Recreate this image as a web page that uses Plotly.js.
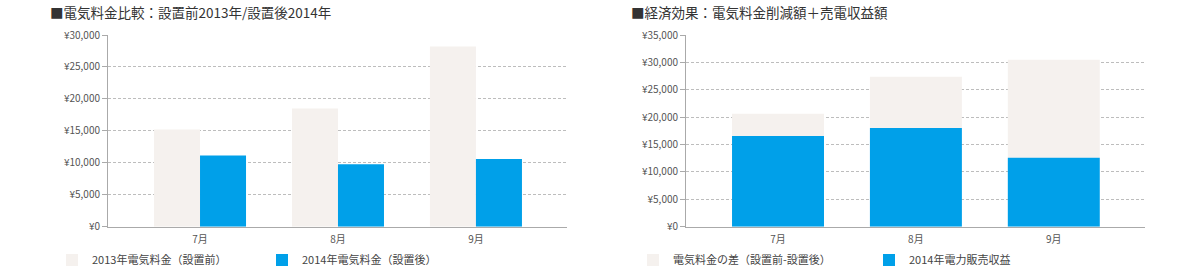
<!DOCTYPE html>
<html><head><meta charset="utf-8">
<script src="https://cdn.plot.ly/plotly-3.0.1.min.js"></script>
<style>html,body{margin:0;padding:0;background:#fff}#c{width:1200px;height:269px}</style>
</head><body><div id="c"></div>
<script>
const months = ["7月", "8月", "9月"];
const cost2013 = [15200, 18500, 28200];
const cost2014 = [11150, 9760, 10600];
const diffCost = [4050, 9400, 17900];
const sales2014 = [16570, 18000, 12600];
const leftTitle = "■電気料金比較：設置前2013年/設置後2014年";
const rightTitle = "■経済効果：電気料金削減額＋売電収益額";
const names = ["2013年電気料金（設置前）", "2014年電気料金（設置後）", "電気料金の差（設置前-設置後）", "2014年電力販売収益"];

const beige = "#f5f1ee", blue = "#00a0e9";
const F = "'Noto Sans CJK JP', 'Noto Sans', sans-serif";

const data = [
  {type:"bar", x:months, y:cost2013, name:names[0], marker:{color:beige}, xaxis:"x", yaxis:"y", legend:"legend"},
  {type:"bar", x:months, y:cost2014, name:names[1], marker:{color:blue}, xaxis:"x", yaxis:"y", legend:"legend"},
  {type:"bar", x:months, y:diffCost, base:sales2014, name:names[2], marker:{color:beige}, xaxis:"x2", yaxis:"y2", offsetgroup:"r", legend:"legend2"},
  {type:"bar", x:months, y:sales2014, name:names[3], marker:{color:blue}, xaxis:"x2", yaxis:"y2", offsetgroup:"r", legend:"legend2"}
];

const MB = 26;
const H = 269 - MB;
const yDom = [(H - 226.7) / H, (H - 35) / H];

const yBase = {
  tickprefix:"¥", tickformat:",d", ticks:"outside", ticklen:5, tickcolor:"#aaa",
  showline:true, linecolor:"#aaa", linewidth:1, gridcolor:"#bdbdbd", griddash:"3px,2px", gridwidth:1,
  zeroline:false, automargin:false, tickfont:{size:10, color:"#555", family:F}, domain:yDom, fixedrange:true
};
const xBase = {
  type:"category", showline:true, linecolor:"#aaa", linewidth:1, ticks:"", showgrid:false, automargin:false,
  ticklabelstandoff:3, tickfont:{size:10, color:"#555", family:F}, range:[-0.667, 2.66]
};
const legFont = {size:11, color:"#444", family:F};

const layout = {
  width:1200, height:269, margin:{l:0, r:0, t:0, b:MB},
  paper_bgcolor:"#fff", plot_bgcolor:"#fff",
  barmode:"group", bargap:0.333, bargroupgap:0,
  font:{family:F, color:"#444"},
  xaxis:Object.assign({}, xBase, {domain:[0.09, 0.4725], anchor:"y"}),
  yaxis:Object.assign({}, yBase, {range:[0, 30000], dtick:5000, anchor:"x"}),
  xaxis2:Object.assign({}, xBase, {domain:[0.5717, 0.954], anchor:"y2"}),
  yaxis2:Object.assign({}, yBase, {range:[0, 35000], dtick:5000, anchor:"x2"}),
  legend:{orientation:"h", x:52/1200, xanchor:"left", yref:"container", y:9/269, yanchor:"middle", font:legFont, itemwidth:30, entrywidth:165, entrywidthmode:"pixels", traceorder:"normal"},
  legend2:{orientation:"h", x:633/1200, xanchor:"left", yref:"container", y:9/269, yanchor:"middle", font:legFont, itemwidth:30, entrywidth:191, entrywidthmode:"pixels", traceorder:"normal"},
  showlegend:true,
  annotations:[
    {text:leftTitle, xref:"paper", yref:"paper", x:48/1200, xanchor:"left", y:(H-12)/H, yanchor:"middle", showarrow:false, font:{size:13.5, color:"#333", family:F}},
    {text:rightTitle, xref:"paper", yref:"paper", x:629/1200, xanchor:"left", y:(H-12)/H, yanchor:"middle", showarrow:false, font:{size:13.5, color:"#333", family:F}}
  ]
};
Plotly.newPlot("c", data, layout, {displayModeBar:false, staticPlot:true});
</script></body></html>
